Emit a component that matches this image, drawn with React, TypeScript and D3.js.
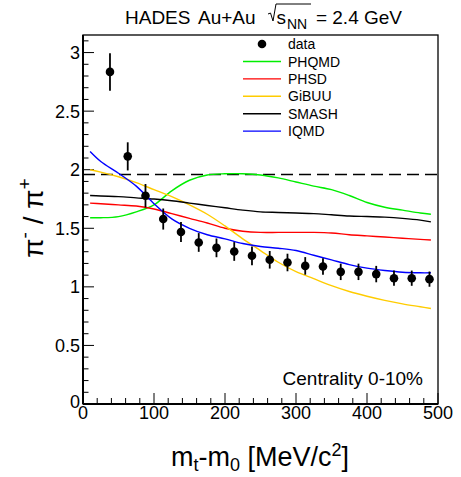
import React from 'react';
import { scaleLinear, line, curveCatmullRom, range } from 'd3';

// data points: pi-/pi+ vs mt-m0
const dataX = [38, 63, 88, 113, 138, 163, 188, 213, 238, 263, 288, 313, 338, 363, 388, 413, 438, 463, 488];
const dataY = [2.835, 2.114, 1.778, 1.579, 1.468, 1.379, 1.333, 1.302, 1.265, 1.231, 1.208, 1.179, 1.174, 1.128, 1.128, 1.109, 1.074, 1.074, 1.066];
const dataErr = [0.16, 0.12, 0.1, 0.09, 0.085, 0.08, 0.08, 0.08, 0.08, 0.075, 0.075, 0.075, 0.07, 0.07, 0.07, 0.07, 0.065, 0.065, 0.065];

// model curves
const modelX = [10, 25, 50, 75, 100, 125, 150, 175, 200, 225, 250, 275, 300, 325, 350, 375, 400, 425, 450, 475, 490];
const phqmd = [1.59, 1.59, 1.6, 1.64, 1.7, 1.82, 1.91, 1.955, 1.965, 1.965, 1.955, 1.93, 1.895, 1.86, 1.83, 1.78, 1.72, 1.68, 1.655, 1.63, 1.62];
const phsd = [1.715, 1.71, 1.7, 1.69, 1.665, 1.625, 1.585, 1.545, 1.5, 1.475, 1.465, 1.465, 1.465, 1.465, 1.46, 1.445, 1.435, 1.425, 1.415, 1.405, 1.4];
const gibuu = [2.0, 1.98, 1.94, 1.89, 1.83, 1.77, 1.7, 1.62, 1.52, 1.41, 1.31, 1.21, 1.13, 1.07, 1.01, 0.96, 0.92, 0.885, 0.855, 0.83, 0.815];
const smash = [1.78, 1.775, 1.77, 1.76, 1.75, 1.735, 1.715, 1.695, 1.675, 1.655, 1.64, 1.635, 1.63, 1.625, 1.615, 1.605, 1.6, 1.595, 1.585, 1.57, 1.555];
const iqmd = [2.155, 2.07, 1.97, 1.86, 1.71, 1.58, 1.5, 1.445, 1.41, 1.37, 1.345, 1.33, 1.31, 1.27, 1.23, 1.19, 1.16, 1.14, 1.125, 1.12, 1.12];

const models = [
  { name: 'PHQMD', values: phqmd, color: '#00ee00' },
  { name: 'PHSD', values: phsd, color: '#ff0000' },
  { name: 'GiBUU', values: gibuu, color: '#ffcc00' },
  { name: 'SMASH', values: smash, color: '#000000' },
  { name: 'IQMD', values: iqmd, color: '#0000ff' },
];

const refLine = 1.96;
const xTicks = [0, 100, 200, 300, 400, 500];
const yTicks = [0, 0.5, 1, 1.5, 2, 2.5, 3];

const W = 461, H = 477;
const font = 'Liberation Sans, Arial, Helvetica, sans-serif';

export default function App() {
  const x = scaleLinear().domain([0, 500]).range([83, 438]);
  const y = scaleLinear().domain([0, 3.15]).range([404, 35]);

  const path = line<number>()
    .x((_, i) => x(modelX[i]))
    .y(d => y(d))
    .curve(curveCatmullRom.alpha(0.5));

  const xMinor = range(0, 501, 20);
  const yMinor = range(0, 3.11, 0.1);

  return (
    <svg width={W} height={H} style={{ position: 'absolute', left: 0, top: 0, background: '#fff' }} fontFamily={font}>
      {/* title */}
      <text x={125} y={24} fontSize={19}>HADES</text>
      <text x={198} y={24} fontSize={19}>Au+Au</text>
      <path d="M268,14 L270.5,13 L273,21 L276,4 L311,4" fill="none" stroke="#000" strokeWidth={1} />
      <text x={276.5} y={24} fontSize={19}>s</text>
      <text x={287} y={29} fontSize={14}>NN</text>
      <text x={402} y={24} fontSize={19} textAnchor="end">= 2.4 GeV</text>

      {/* frame */}
      <rect x={83} y={35} width={355} height={369} fill="none" stroke="#000" strokeWidth={1.3} />
      <line x1={83} x2={83} y1={35} y2={404} stroke="#000" strokeWidth={2} />
      <line x1={83} x2={438} y1={404} y2={404} stroke="#000" strokeWidth={2} />

      {/* ticks */}
      {yMinor.map((v, i) => {
        const major = Math.abs(v * 2 - Math.round(v * 2)) < 1e-6;
        return <line key={'ym' + i} x1={83} x2={83 + (major ? 11 : 5.5)} y1={y(v)} y2={y(v)} stroke="#000" strokeWidth={1} />;
      })}
      {xMinor.map(v => {
        const major = v % 100 === 0;
        return <line key={'xm' + v} x1={x(v)} x2={x(v)} y1={404} y2={404 - (major ? 11 : 6)} stroke="#000" strokeWidth={1} />;
      })}
      {yTicks.map(v => (
        <text key={'yt' + v} x={80} y={y(v) - (v === 0 ? 2 : 0)} dy="0.36em" fontSize={18} textAnchor="end">{v}</text>
      ))}
      {xTicks.map(v => (
        <text key={'xt' + v} x={x(v)} y={419} fontSize={18} textAnchor="middle">{v}</text>
      ))}

      {/* axis titles */}
      <text x={260} y={466} fontSize={27} textAnchor="middle">
        m<tspan fontSize={18} dy={5}>t</tspan><tspan dy={-5}>-m</tspan><tspan fontSize={18} dy={5}>0</tspan>
        <tspan dy={-5}> [MeV/c</tspan><tspan fontSize={18} dy={-10}>2</tspan><tspan dy={10}>]</tspan>
      </text>
      <text transform="translate(43,218) rotate(-90)" fontSize={28} textAnchor="middle">
        π<tspan fontSize={19} dy={-12}>-</tspan><tspan dy={12}> / π</tspan><tspan fontSize={19} dy={-12}>+</tspan>
      </text>

      {/* reference line */}
      <line x1={x(0)} x2={x(500)} y1={y(refLine)} y2={y(refLine)} stroke="#000" strokeWidth={1.5} strokeDasharray="12,6" />

      {/* model curves */}
      {models.map(m => (
        <path key={m.name} d={path(m.values) || ''} fill="none" stroke={m.color} strokeWidth={1.4} />
      ))}

      {/* data */}
      {dataX.map((d, i) => (
        <g key={'d' + i}>
          <line x1={x(d)} x2={x(d)} y1={y(dataY[i] - dataErr[i])} y2={y(dataY[i] + dataErr[i])} stroke="#000" strokeWidth={1.8} />
          <circle cx={x(d)} cy={y(dataY[i])} r={4.3} fill="#000" />
        </g>
      ))}

      {/* legend */}
      <circle cx={262} cy={44} r={4.3} fill="#000" />
      <text x={288} y={44} dy="0.36em" fontSize={14}>data</text>
      {models.map((m, i) => {
        const ly = 61.5 + i * 17.4;
        return (
          <g key={'lg' + m.name}>
            <line x1={243} x2={281} y1={ly} y2={ly} stroke={m.color} strokeWidth={1.4} />
            <text x={288} y={ly} dy="0.36em" fontSize={14}>{m.name}</text>
          </g>
        );
      })}

      <text x={423} y={385} fontSize={19} textAnchor="end">Centrality 0-10%</text>
    </svg>
  );
}
